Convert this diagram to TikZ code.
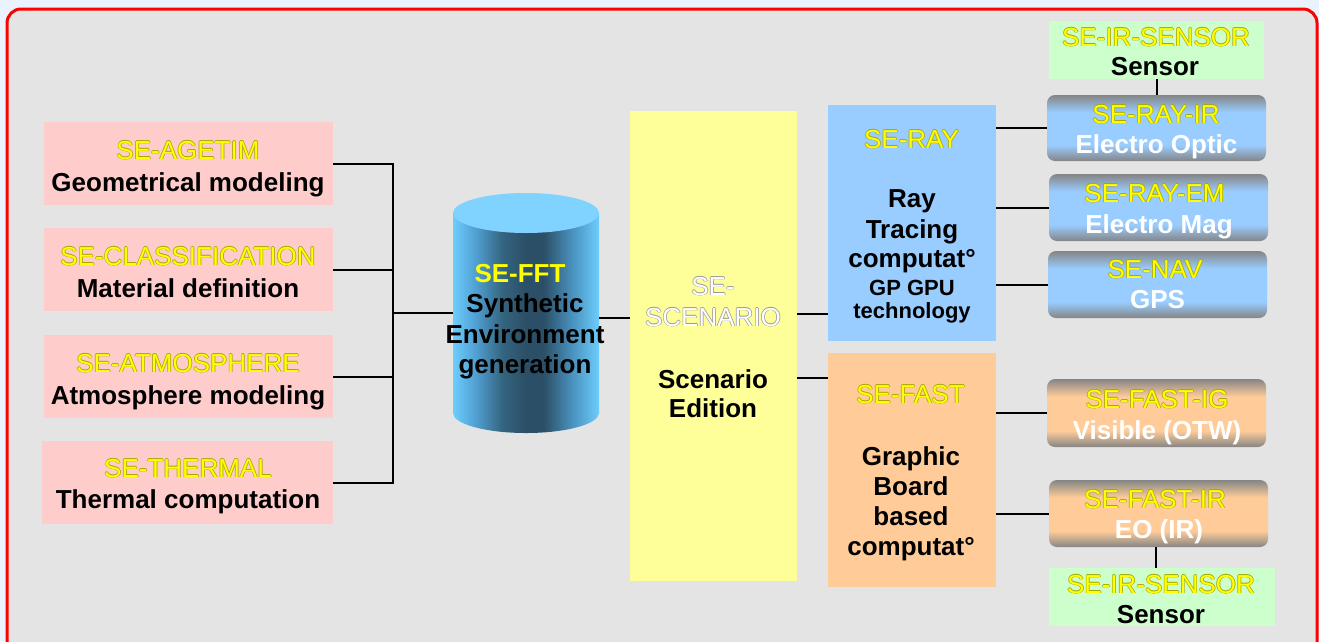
\documentclass[tikz,border=0pt]{standalone}
\usepackage{fontspec}
\setmainfont{Liberation Sans}
\usetikzlibrary{calc}
\definecolor{bgout}{HTML}{EAF3FD}
\definecolor{framebg}{HTML}{E4E4E4}
\definecolor{pinkc}{HTML}{FFCCCC}
\definecolor{scenc}{HTML}{FFFF99}
\definecolor{rayc}{HTML}{99CCFF}
\definecolor{fastc}{HTML}{FFCC99}
\definecolor{sensc}{HTML}{CCFFCC}
\definecolor{gbgray}{HTML}{858585}
\definecolor{yel}{HTML}{FFFF00}
\definecolor{yelol}{HTML}{A8A800}
\definecolor{whol}{HTML}{9A9A9A}
\definecolor{cyA}{HTML}{6CCDFC}
\definecolor{cyB}{HTML}{4F9ED0}
\definecolor{cyC}{HTML}{34647F}
\definecolor{cyD}{HTML}{2B4F66}
\definecolor{cyE}{HTML}{4A93C0}
\definecolor{cytop}{HTML}{80D3FF}
\pgfdeclarehorizontalshading{cylshade}{100bp}{color(0bp)=(cyA); color(25bp)=(cyA); color(33bp)=(cyB); color(42bp)=(cyC); color(50bp)=(cyD); color(56bp)=(cyD); color(66bp)=(cyE); color(75bp)=(cyA); color(100bp)=(cyA)}
\pgfdeclareverticalshading{blueshade}{100bp}{color(0bp)=(gbgray); color(25bp)=(gbgray); color(37bp)=(rayc); color(62bp)=(rayc); color(75bp)=(gbgray); color(100bp)=(gbgray)}
\pgfdeclareverticalshading{orangeshade}{100bp}{color(0bp)=(gbgray); color(25bp)=(gbgray); color(37bp)=(fastc); color(62bp)=(fastc); color(75bp)=(gbgray); color(100bp)=(gbgray)}
\newcommand\myol[3]{\leavevmode\rlap{\color{#2}\kern0.7pt#3}\rlap{\color{#2}\kern-0.7pt#3}\rlap{\color{#2}\raisebox{0.7pt}{#3}}\rlap{\color{#2}\raisebox{-0.7pt}{#3}}{\color{#1}#3}}
\newcommand\yl[1]{\myol{yel}{yelol}{#1}}
\newcommand\wl[1]{\myol{white}{whol}{#1}}
\tikzset{
  box/.style={inner sep=0pt, outer sep=0pt},
  gbox/.style={box, rounded corners=8pt, minimum width=219pt},
  conn/.style={draw=black, line width=2pt},
  tb/.style={anchor=base, inner sep=0pt, font=\fontsize{26}{30}\selectfont\bfseries},
  tbs/.style={anchor=base, inner sep=0pt, font=\fontsize{22}{26}\selectfont\bfseries},
  ty/.style={anchor=base, inner sep=0pt, font=\fontsize{26}{30}\selectfont},
  tw/.style={tb, text=white}
}
\begin{document}
\begin{tikzpicture}[x=1pt,y=-1pt]
\useasboundingbox (0,0) rectangle (1319,641);
\clip (0,0) rectangle (1319,641);
\fill[bgout] (0,0) rectangle (1319,641);
\draw[red, line width=3pt, fill=framebg, rounded corners=14pt] (7,9) rectangle (1317,680);

% left boxes
\node[box, fill=pinkc, minimum width=289pt, minimum height=83pt] (b1) at (188.5,163.5) {};
\node[box, fill=pinkc, minimum width=289pt, minimum height=83pt] (b2) at (188.5,269.5) {};
\node[box, fill=pinkc, minimum width=289pt, minimum height=83pt] (b3) at (188.5,376.5) {};
\node[box, fill=pinkc, minimum width=291pt, minimum height=83pt] (b4) at (187.5,482.5) {};
\node[ty] (b1y) at (188,159) {\yl{SE-AGETIM}};
\node[tb] (b1t) at (188,191) {Geometrical modeling};
\node[ty] (b2y) at (188,265) {\yl{SE-CLASSIFICATION}};
\node[tb] (b2t) at (188,297) {Material definition};
\node[ty] (b3y) at (188,372) {\yl{SE-ATMOSPHERE}};
\node[tb] (b3t) at (188,404) {Atmosphere modeling};
\node[ty] (b4y) at (188,477) {\yl{SE-THERMAL}};
\node[tb] (b4t) at (188,508) {Thermal computation};

% cylinder
\node[box, minimum width=146pt, minimum height=240pt] (cyl) at (526,318) {};
\shade[shading=cylshade] (453,213) -- (453,413) arc[start angle=180, end angle=0, x radius=73, y radius=20] -- (599,213) -- cycle;
\fill[cytop] (526,213) ellipse[x radius=73, y radius=20];
\node[tb, text=yel] (cy1) at (520,282) {SE-FFT};
\node[tb] (cy2) at (525,312) {Synthetic};
\node[tb] (cy3) at (525,343) {Environment};
\node[tb] (cy4) at (525,373) {generation};

% scenario
\node[box, fill=scenc, minimum width=167pt, minimum height=470pt] (scen) at (713.5,346) {};
\node[ty] (sc1) at (713,295) {\wl{SE-}};
\node[ty] (sc2) at (713,326) {\wl{SCENARIO}};
\node[tb] (sc3) at (713,388) {Scenario};
\node[tb] (sc4) at (713,417) {Edition};

% SE-RAY
\node[box, fill=rayc, minimum width=168pt, minimum height=236pt] (ray) at (912,223) {};
\node[ty] (r1) at (911.5,148) {\yl{SE-RAY}};
\node[tb] (r2) at (912,207) {Ray};
\node[tb] (r3) at (912,238) {Tracing};
\node[tb] (r4) at (912,267) {computat°};
\node[tbs] (r5) at (912,295) {GP GPU};
\node[tbs] (r6) at (912,318) {technology};

% SE-FAST
\node[box, fill=fastc, minimum width=168pt, minimum height=234pt] (fast) at (912,469.5) {};
\node[ty] (f1) at (910.5,403) {\yl{SE-FAST}};
\node[tb] (f2) at (911,465) {Graphic};
\node[tb] (f3) at (911,495) {Board};
\node[tb] (f4) at (911,525) {based};
\node[tb] (f5) at (911,555) {computat°};

% gradient boxes
\node[gbox, shading=blueshade, minimum height=66pt] (rayir) at (1156.5,128) {};
\node[gbox, shading=blueshade, minimum height=67pt] (rayem) at (1158.5,207.5) {};
\node[gbox, shading=blueshade, minimum height=67pt] (nav) at (1157.5,284.5) {};
\node[gbox, shading=orangeshade, minimum height=68pt] (fastig) at (1156.5,413) {};
\node[gbox, shading=orangeshade, minimum height=67pt] (fastir) at (1158.5,513.5) {};
\node[ty] (g1a) at (1156,123) {\yl{SE-RAY-IR}};
\node[tw] (g1b) at (1156.5,153) {Electro Optic};
\node[ty] (g2a) at (1154.5,202) {\yl{SE-RAY-EM}};
\node[tw] (g2b) at (1159,233) {Electro Mag};
\node[ty] (g3a) at (1155,278) {\yl{SE-NAV}};
\node[tw] (g3b) at (1157.5,308) {GPS};
\node[ty] (g4a) at (1157,408) {\yl{SE-FAST-IG}};
\node[tw] (g4b) at (1157,439) {Visible (OTW)};
\node[ty] (g5a) at (1155,508) {\yl{SE-FAST-IR}};
\node[tw] (g5b) at (1159,538) {EO (IR)};

% sensors
\node[box, fill=sensc, minimum width=215pt, minimum height=58pt] (sens1) at (1156.5,50) {};
\node[ty] (s1a) at (1156,46) {\yl{SE-IR-SENSOR}};
\node[tb] (s1b) at (1155,75) {Sensor};
\node[box, fill=sensc, minimum width=226pt, minimum height=58pt] (sens2) at (1162,597) {};
\node[ty] (s2a) at (1161,593) {\yl{SE-IR-SENSOR}};
\node[tb] (s2b) at (1161,623) {Sensor};

% connectors
\coordinate (busc) at (393,313);
\draw[conn] (b1.east) -| (busc);
\draw[conn] (b2.east) -| (busc);
\draw[conn] (b3.east) -| (busc);
\draw[conn] (b4.east) -| (busc);
\draw[conn] (busc) -- (busc -| cyl.west);
\draw[conn] (cyl.east) -- (cyl.east -| scen.west);
\coordinate (sr) at ([yshift=32pt]scen.east);
\coordinate (sf) at ([yshift=-32pt]scen.east);
\draw[conn] (sr) -- (sr -| ray.west);
\draw[conn] (sf) -- (sf -| fast.west);
\draw[conn] (rayir.west) -- (rayir.west -| ray.east);
\draw[conn] (rayem.west) -- (rayem.west -| ray.east);
\draw[conn] (nav.west) -- (nav.west -| ray.east);
\draw[conn] (fastig.west) -- (fastig.west -| fast.east);
\draw[conn] (fastir.west) -- (fastir.west -| fast.east);
\draw[conn] (sens1.south) -- (rayir.north);
\draw[conn] ([xshift=-2.5pt]fastir.south) -- ([xshift=-2.5pt]fastir.south |- sens2.north);
\end{tikzpicture}
\end{document}
